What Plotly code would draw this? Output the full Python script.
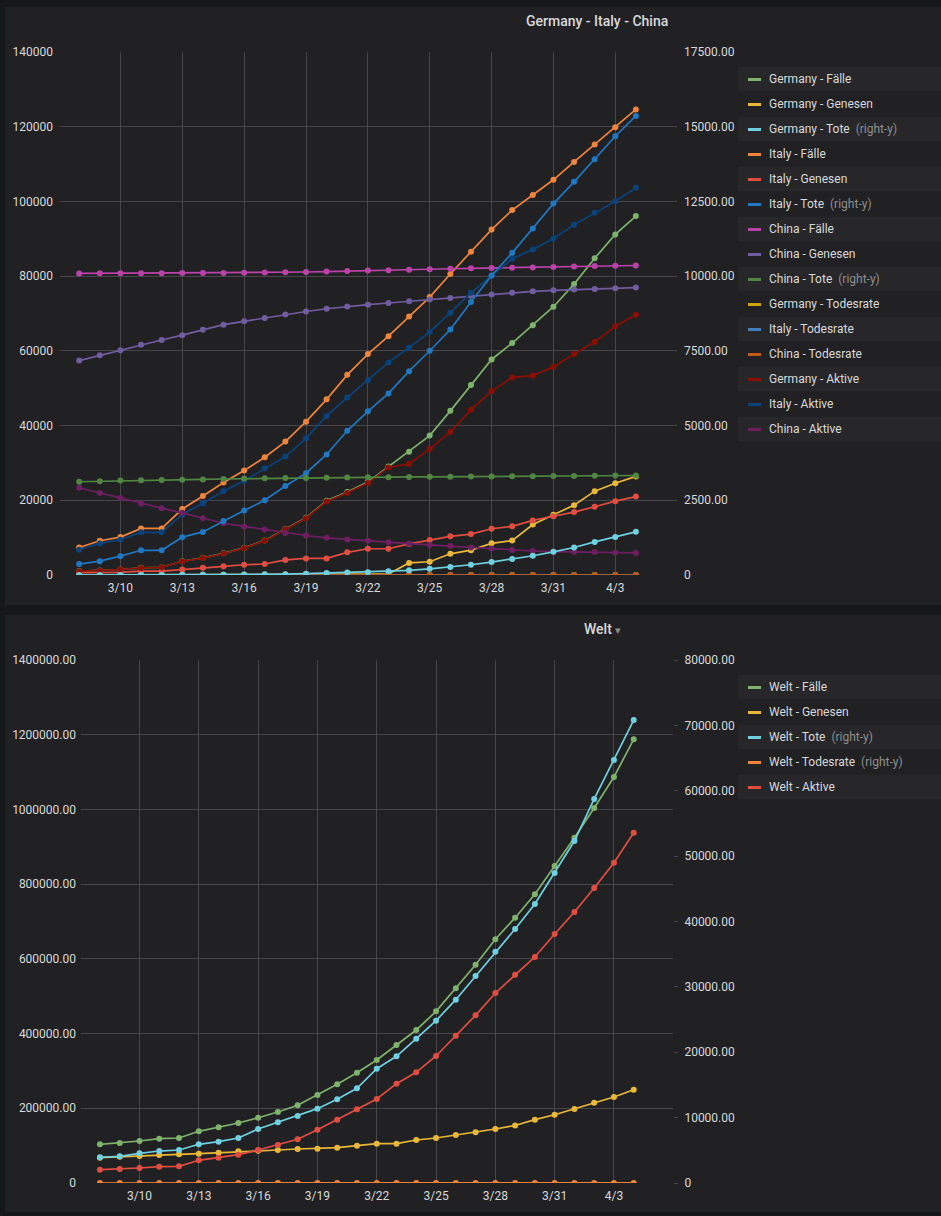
import pandas as pd
import plotly.graph_objects as go

W, H = 941, 1216

days = pd.date_range("2020-03-08", "2020-04-04", freq="D")

# --- Germany / Italy / China (top panel) ---
de_faelle = [1040, 1176, 1457, 1908, 2078, 3675, 4585, 5795, 7272, 9257, 12327, 15320, 19848, 22213,
             24873, 29056, 32986, 37323, 43938, 50871, 57695, 62095, 66885, 71808, 77872, 84794, 91159, 96092]
de_genesen = [18, 18, 18, 25, 25, 46, 46, 46, 67, 67, 105, 113, 180, 233,
              266, 266, 3243, 3547, 5673, 6658, 8481, 9211, 13500, 16100, 18700, 22440, 24575, 26400]
de_tote = [0, 2, 2, 3, 3, 7, 9, 11, 17, 24, 28, 44, 67, 84,
           94, 123, 157, 206, 267, 342, 433, 533, 645, 775, 920, 1107, 1275, 1444]
it_faelle = [7375, 9172, 10149, 12462, 12462, 17660, 21157, 24747, 27980, 31506, 35713, 41035, 47021, 53578,
             59138, 63927, 69176, 74386, 80589, 86498, 92472, 97689, 101739, 105792, 110574, 115242, 119827, 124632]
it_genesen = [622, 724, 724, 1045, 1045, 1439, 1966, 2335, 2749, 2941, 4025, 4440, 4440, 6072,
              7024, 7024, 8326, 9362, 10361, 10950, 12384, 13030, 14620, 15729, 16847, 18278, 19758, 20996]
it_tote = [366, 463, 631, 827, 827, 1266, 1441, 1809, 2158, 2503, 2978, 3405, 4032, 4825,
           5476, 6077, 6820, 7503, 8215, 9134, 10023, 10779, 11591, 12428, 13155, 13915, 14681, 15362]
cn_faelle = [80735, 80754, 80778, 80793, 80801, 80827, 80849, 80874, 80905, 80955, 81029, 81106, 81222, 81380,
             81524, 81600, 81693, 81827, 81982, 82092, 82185, 82257, 82342, 82475, 82579, 82695, 82789, 82846]
cn_genesen = [57388, 58804, 60181, 61644, 62901, 64196, 65660, 67017, 67910, 68798, 69755, 70535, 71266, 71857,
              72362, 72814, 73280, 73773, 74181, 74720, 75100, 75582, 75923, 76206, 76405, 76565, 76760, 76946]
cn_tote = [3120, 3136, 3158, 3169, 3176, 3189, 3199, 3213, 3226, 3237, 3245, 3249, 3253, 3259,
           3274, 3274, 3281, 3285, 3291, 3296, 3299, 3304, 3308, 3309, 3316, 3322, 3326, 3330]
de_rate = [0.0, 0.17, 0.14, 0.16, 0.14, 0.19, 0.2, 0.19, 0.23, 0.26, 0.23, 0.29, 0.34, 0.38,
           0.38, 0.42, 0.48, 0.55, 0.61, 0.67, 0.75, 0.86, 0.96, 1.08, 1.18, 1.31, 1.4, 1.5]
it_rate = [4.96, 5.05, 6.22, 6.64, 6.64, 7.17, 6.81, 7.31, 7.71, 7.94, 8.34, 8.3, 8.58, 9.01,
           9.26, 9.51, 9.86, 10.09, 10.19, 10.56, 10.84, 11.03, 11.39, 11.75, 11.9, 12.07, 12.25, 12.33]
cn_rate = [3.86, 3.88, 3.91, 3.92, 3.93, 3.95, 3.96, 3.97, 3.99, 4.0, 4.0, 4.01, 4.0, 4.0,
           4.02, 4.01, 4.02, 4.01, 4.01, 4.02, 4.01, 4.02, 4.02, 4.01, 4.02, 4.02, 4.02, 4.02]
de_aktive = [1022, 1158, 1439, 1883, 2053, 3629, 4539, 5749, 7205, 9190, 12222, 15207, 19668, 21980,
             24607, 28790, 29743, 33776, 38265, 44213, 49214, 52884, 53385, 55708, 59172, 62354, 66584, 69692]
it_aktive = [6753, 8448, 9425, 11417, 11417, 16221, 19191, 22412, 25231, 28565, 31688, 36595, 42581, 47506,
             52114, 56903, 60850, 65024, 70228, 75548, 80088, 84659, 87119, 90063, 93727, 96964, 100069, 103636]
cn_aktive = [23347, 21950, 20597, 19149, 17900, 16631, 15189, 13857, 12995, 12157, 11274, 10571, 9956, 9523,
             9162, 8786, 8413, 8054, 7801, 7372, 7085, 6675, 6419, 6269, 6174, 6130, 6029, 5900]

# --- Welt (bottom panel) ---
welt_faelle = [103600, 107100, 112400, 118600, 120500, 138400, 149100, 160600, 174800, 190100, 208000, 235600,
               264200, 295300, 329300, 369400, 409600, 459600, 521200, 584400, 652400, 710200, 772800, 848600,
               924400, 1003900, 1086900, 1187800]
welt_genesen = [67700, 70400, 72300, 75000, 76800, 78400, 81100, 84900, 86500, 88300, 91000, 91800, 94500, 99800,
                105200, 105200, 115100, 120500, 128500, 136000, 144600, 154000, 169500, 182800, 198100, 215000,
                230200, 249800]
welt_tote = [3930, 4080, 4540, 4890, 5050, 5920, 6320, 6880, 8260, 9280, 10250, 11370, 12800, 14480,
             17480, 19380, 22070, 24830, 28040, 31660, 35380, 38850, 42680, 47420, 52310, 58740, 64700, 70820]
welt_rate = [3.8, 3.8, 4.0, 4.1, 4.2, 4.3, 4.2, 4.3, 4.7, 4.9, 4.9, 4.8, 4.8, 4.9,
             5.3, 5.2, 5.4, 5.4, 5.4, 5.4, 5.4, 5.5, 5.5, 5.6, 5.7, 5.9, 6.0, 6.0]
welt_aktive = [35600, 37500, 40200, 43600, 44700, 60800, 67700, 75800, 88300, 101700, 117000, 142700, 169500,
               197300, 224900, 265800, 296300, 340000, 394300, 448900, 508600, 557600, 605000, 666600, 725500,
               789700, 857500, 937800]

# axis ticks
top_left_vals = [0, 20000, 40000, 60000, 80000, 100000, 120000, 140000]
top_left_text = ["0", "20000", "40000", "60000", "80000", "100000", "120000", "140000"]
top_right_vals = [0, 2500, 5000, 7500, 10000, 12500, 15000, 17500]
top_right_text = ["0", "2500.00", "5000.00", "7500.00", "10000.00", "12500.00", "15000.00", "17500.00"]
bot_left_vals = [0, 200000, 400000, 600000, 800000, 1000000, 1200000, 1400000]
bot_left_text = ["0", "200000.00", "400000.00", "600000.00", "800000.00", "1000000.00", "1200000.00", "1400000.00"]
bot_right_vals = [0, 10000, 20000, 30000, 40000, 50000, 60000, 70000, 80000]
bot_right_text = ["0", "10000.00", "20000.00", "30000.00", "40000.00", "50000.00", "60000.00", "70000.00", "80000.00"]

# name, values, colour, right axis?
top_series = [
    ("Germany - Fälle", de_faelle, "#7EB26D", False),
    ("Germany - Genesen", de_genesen, "#EAB839", False),
    ("Germany - Tote", de_tote, "#6ED0E0", True),
    ("Italy - Fälle", it_faelle, "#EF843C", False),
    ("Italy - Genesen", it_genesen, "#E24D42", False),
    ("Italy - Tote", it_tote, "#1F78C1", True),
    ("China - Fälle", cn_faelle, "#BA43A9", False),
    ("China - Genesen", cn_genesen, "#705DA0", False),
    ("China - Tote", cn_tote, "#508642", True),
    ("Germany - Todesrate", de_rate, "#CCA300", False),
    ("Italy - Todesrate", it_rate, "#447EBC", False),
    ("China - Todesrate", cn_rate, "#C15C17", False),
    ("Germany - Aktive", de_aktive, "#890F02", False),
    ("Italy - Aktive", it_aktive, "#0A437C", False),
    ("China - Aktive", cn_aktive, "#6D1F62", False),
]
bot_series = [
    ("Welt - Fälle", welt_faelle, "#7EB26D", False),
    ("Welt - Genesen", welt_genesen, "#EAB839", False),
    ("Welt - Tote", welt_tote, "#6ED0E0", True),
    ("Welt - Todesrate", welt_rate, "#EF843C", True),
    ("Welt - Aktive", welt_aktive, "#E24D42", False),
]

PAGE_BG = "#161719"
PANEL_BG = "#212124"
STRIPE = "#27272a"
GRID = "#47474b"
TEXT = "#d8d9da"
MUTED = "#8e8e8e"
FONT = "Roboto"


def px(x):
    return x / W


def py(y):
    return 1 - y / H


fig = go.Figure()

for name, vals, color, right in top_series:
    fig.add_trace(go.Scatter(
        x=days, y=vals, name=name, mode="lines+markers",
        line=dict(color=color, width=1.7), marker=dict(color=color, size=6),
        xaxis="x", yaxis="y2" if right else "y", showlegend=False, hoverinfo="skip"))

for name, vals, color, right in bot_series:
    fig.add_trace(go.Scatter(
        x=days, y=vals, name=name, mode="lines+markers",
        line=dict(color=color, width=1.7), marker=dict(color=color, size=6),
        xaxis="x2", yaxis="y4" if right else "y3", showlegend=False, hoverinfo="skip"))

tick_font = dict(family=FONT, size=12, color=TEXT)
xcommon = dict(type="date", tickformat="%-m/%-d", dtick=3 * 86400000, tick0="2020-03-10",
               showgrid=True, gridcolor=GRID, gridwidth=1, zeroline=False, showline=False,
               ticks="", tickfont=tick_font, ticklabelstandoff=4, automargin=False)
ycommon = dict(zeroline=False, showline=False, tickfont=tick_font, tickmode="array", automargin=False)

shapes = [
    dict(type="rect", xref="paper", yref="paper", x0=px(5), x1=px(960), y0=py(605), y1=py(7),
         fillcolor=PANEL_BG, line_width=0, layer="below"),
    dict(type="rect", xref="paper", yref="paper", x0=px(5), x1=px(960), y0=py(1212), y1=py(615),
         fillcolor=PANEL_BG, line_width=0, layer="below"),
]
annotations = [
    dict(text="Germany - Italy - China", x=px(597), y=py(21), xref="paper", yref="paper",
         showarrow=False, xanchor="center", yanchor="middle",
         font=dict(family=FONT, size=14, color=TEXT, weight=500)),
    dict(text="Welt <span style='color:#8e8e8e;font-size:11px'>▾</span>", x=px(602), y=py(629),
         xref="paper", yref="paper", showarrow=False, xanchor="center", yanchor="middle",
         font=dict(family=FONT, size=14, color=TEXT, weight=500)),
]


def add_legend(series, first_y):
    for i, (name, _, color, right) in enumerate(series):
        cy = first_y + 25 * i
        if i % 2 == 0:
            shapes.append(dict(type="rect", xref="paper", yref="paper", x0=px(738), x1=px(960),
                               y0=py(cy + 12.5), y1=py(cy - 12.5), fillcolor=STRIPE, line_width=0,
                               layer="below"))
        shapes.append(dict(type="line", xref="paper", yref="paper", x0=px(748), x1=px(761),
                           y0=py(cy + 0.5), y1=py(cy + 0.5), line=dict(color=color, width=3)))
        label = name
        if right:
            label += f"  <span style='color:{MUTED}'>(right-y)</span>"
        annotations.append(dict(text=label, x=px(767), y=py(cy), xref="paper", yref="paper",
                                showarrow=False, xanchor="left", yanchor="middle",
                                font=dict(family=FONT, size=12, color=TEXT)))


add_legend(top_series, 79)
add_legend(bot_series, 687)

fig.update_layout(
    template="none",
    width=W, height=H, autosize=False,
    margin=dict(l=0, r=0, t=0, b=0, pad=0, autoexpand=False),
    paper_bgcolor=PAGE_BG, plot_bgcolor="rgba(0,0,0,0)",
    font=dict(family=FONT, color=TEXT),
    showlegend=False,
    xaxis=dict(domain=[px(60), px(677)], anchor="y",
               range=["2020-03-07 01:40", "2020-04-05 23:50"], **xcommon),
    yaxis=dict(domain=[py(575), py(52)], anchor="x", range=[0, 140000],
               tickvals=top_left_vals, ticktext=top_left_text, showgrid=True, gridcolor=GRID,
               ticks="", ticklabelstandoff=6, **ycommon),
    yaxis2=dict(overlaying="y", anchor="x", side="right", range=[0, 17500],
                tickvals=top_right_vals, ticktext=top_right_text, showgrid=False,
                ticks="", ticklabelstandoff=6, **ycommon),
    xaxis2=dict(domain=[px(81), px(673)], anchor="y3",
                range=["2020-03-07 01:00", "2020-04-05 23:40"], **xcommon),
    yaxis3=dict(domain=[py(1183), py(660)], anchor="x2", range=[0, 1400000],
                tickvals=bot_left_vals, ticktext=bot_left_text, showgrid=True, gridcolor=GRID,
                ticks="", ticklabelstandoff=4, **ycommon),
    yaxis4=dict(overlaying="y3", anchor="x2", side="right", range=[0, 80000],
                tickvals=bot_right_vals, ticktext=bot_right_text, showgrid=False,
                ticks="outside", ticklen=4, tickcolor=GRID, ticklabelstandoff=4, **ycommon),
    shapes=shapes,
    annotations=annotations,
)

# pin the plot to the page corner so the page never grows beyond the figure
pin = (
    "document.documentElement.style.margin='0';document.body.style.margin='0';"
    "document.body.style.background='#161719';"
    "var gd=document.getElementById('{plot_id}');"
    "gd.style.position='fixed';gd.style.top='0px';gd.style.left='0px';"
)

fig.write_html("out.html", config={"displayModeBar": False, "responsive": False}, post_script=pin)
